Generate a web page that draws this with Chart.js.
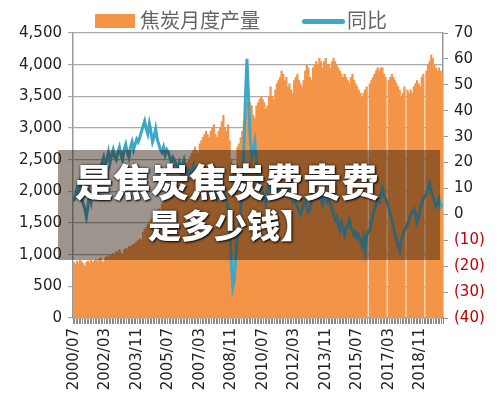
<!DOCTYPE html>
<html><head><meta charset="utf-8">
<script src="https://cdn.jsdelivr.net/npm/chart.js@4"></script>
<style>
body{margin:0;width:500px;height:411px;background:#fff;position:relative;overflow:hidden;font-family:"DejaVu Sans","Noto Sans CJK SC",sans-serif}
#wrap{position:absolute;left:0;top:0;width:500px;height:411px}
.lg{position:absolute;font-family:"Noto Sans CJK SC";font-size:20px;line-height:20px;color:#666;top:10px}
#banner{position:absolute;left:58px;top:150px;width:382px;height:110px;background:rgba(40,20,5,0.45)}
.bt{position:absolute;font-family:"Noto Sans CJK SC";font-weight:900;color:#fff;text-shadow:0 0 3px #222,1px 1px 2px #000;white-space:nowrap;line-height:1}
</style></head><body>
<div id="wrap"><canvas id="c" width="500" height="411"></canvas></div>
<div style="position:absolute;left:95px;top:14px;width:40px;height:14px;background:#f39447"></div>
<div class="lg" style="left:140px">焦炭月度产量</div>
<div style="position:absolute;left:302px;top:19px;width:43px;height:5px;border-radius:3px;background:#3ea6c6"></div>
<div class="lg" style="left:347px">同比</div>
<div id="banner"></div>
<div class="bt" style="left:75px;top:161px;font-size:38px">是焦炭焦炭费贵费</div>
<div class="bt" style="left:148px;top:208px;font-size:33px">是多少钱】</div>
<script>
const startYear=2000,startMonth=7;
const production=[
880,850,900,870,910,890,
860,820,880,900,870,910,880,900,920,890,930,950,
900,880,950,980,960,1000,990,1020,1010,1050,1040,1080,
1030,1000,1080,1100,1090,1130,1120,1150,1160,1180,1200,1230,
1250,1230,1350,1400,1430,1480,1520,1550,1580,1620,1650,1700,
1720,1700,1800,1850,1880,1920,1950,2000,2050,2100,2150,2200,
2150,2100,2250,2300,2350,2400,2450,2500,2550,2600,2650,2700,
2650,2600,2750,2800,2850,2900,2950,2900,2850,2950,3000,3050,
2900,2850,2950,3000,3100,3200,3000,2950,3050,2800,2500,2400,
2300,2250,2700,2750,2850,2950,3100,3300,3400,3450,3400,3350,
3200,3150,3350,3400,3450,3500,3450,3400,3300,3350,3500,3650,
3500,3450,3600,3700,3750,3800,3900,3850,3750,3800,3650,3700,
3600,3550,3750,3800,3850,3750,3700,3650,3750,3900,4000,3950,
3800,3750,3950,4000,4050,4000,4100,4050,3950,4050,4100,4000,
4000,3950,4050,4100,4050,4000,3950,3900,3850,3800,3850,3800,
3750,3700,3800,3850,3750,3700,3650,3600,3550,3500,3550,3600,
3650,null,3700,3750,3800,3850,3900,3950,3900,3950,3950,3850,
3800,null,3750,3800,3850,3800,3750,3700,3650,3600,3500,3550,
3650,null,3600,3550,3600,3550,3650,3700,3750,3700,3650,3800,
3850,null,3900,4000,4050,4150,4100,4000,3950,3900,3950,3900,
3850];
const yoy=[
5,7,10,8,12,6,
4,2,-1,3,8,5,10,14,12,9,15,18,
20,22,19,21,24,20,23,25,22,21,24,26,
23,21,25,27,24,22,26,28,25,27,29,28,
30,32,34,36,33,31,35,32,28,30,33,29,
27,25,24,26,23,25,24,22,20,22,21,19,
18,20,17,19,21,18,16,17,15,17,19,16,
14,12,15,13,11,10,12,9,8,7,9,10,
8,6,10,9,12,11,7,5,2,-5,-18,-28,
-25,-15,-8,-5,2,10,25,45,60,45,30,22,
25,28,20,15,12,10,8,6,4,9,12,10,
9,11,10,12,10,8,9,7,8,10,11,9,
8,5,6,4,3,1,0,2,4,6,3,1,
2,5,8,10,9,7,8,6,4,7,8,5,
6,4,2,0,-2,-1,-4,-6,-3,-5,-8,-6,
-4,-2,-5,-6,-8,-7,-9,-8,-10,-12,-9,-14,
-8,null,-6,-3,0,2,4,6,5,8,10,7,
6,null,3,0,-2,-5,-8,-10,-12,-14,-10,-8,
-6,null,-4,-2,0,1,2,0,-3,-1,2,4,
6,null,8,10,12,9,7,5,3,4,6,3,
4];
const labels=production.map((_,i)=>{const m=startMonth-1+i;return (startYear+Math.floor(m/12))+'/'+String(m%12+1).padStart(2,'0');});
const leftTicks=[0,500,1000,1500,2000,2500,3000,3500,4000,4500];
const rightTicks=[-40,-30,-20,-10,0,10,20,30,40,50,60,70];
new Chart(document.getElementById('c'),{
data:{labels,datasets:[
{type:'line',data:yoy,yAxisID:'y1',borderColor:'#3ea6c6',borderWidth:3,pointRadius:0,tension:0,spanGaps:true,order:0},
{type:'bar',data:production,yAxisID:'y',backgroundColor:'#f39447',barPercentage:1,categoryPercentage:1,order:1}
]},
options:{responsive:false,animation:false,layout:{padding:{top:33,left:0,right:0,bottom:0}},
plugins:{legend:{display:false},tooltip:{enabled:false}},
scales:{
x:{grid:{display:true,drawOnChartArea:false,color:'#888',tickLength:6},border:{color:'#999',width:1.5},
 ticks:{autoSkip:false,maxRotation:90,minRotation:90,color:'#222',font:{size:15,family:'DejaVu Sans'},padding:4,
 callback:(v,i)=>i%20===0?labels[i]:''},afterFit:a=>{a.height=93;}},
y:{position:'left',min:0,max:4500,afterBuildTicks:a=>{a.ticks=leftTicks.map(v=>({value:v}));},
 ticks:{color:'#222',font:{size:15,family:'DejaVu Sans'},callback:v=>v.toLocaleString('en-US'),padding:6},
 grid:{color:'#aaa',lineWidth:1.2,tickLength:5},border:{color:'#999',width:1.5},afterFit:a=>{a.width=73;}},
y1:{position:'right',min:-40,max:70,afterBuildTicks:a=>{a.ticks=rightTicks.map(v=>({value:v}));},
 ticks:{font:{size:15,family:'DejaVu Sans'},padding:6,color:c=>c.tick.value<0?'#c00000':'#222',callback:v=>v<0?'('+(-v)+')':v},
 grid:{drawOnChartArea:false,color:'#999',tickLength:5},border:{color:'#999',width:1.5},afterFit:a=>{a.width=57;}}
}}});
</script></body></html>
